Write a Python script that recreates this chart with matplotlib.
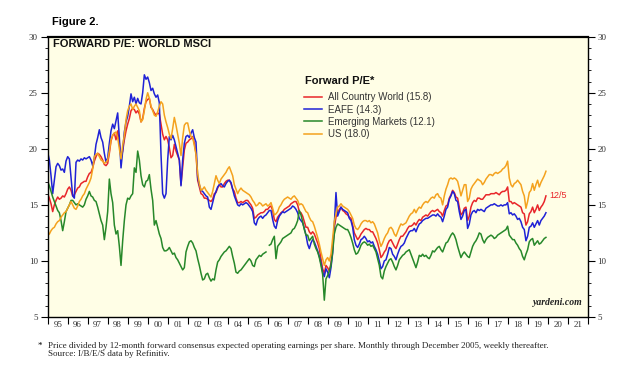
import matplotlib
matplotlib.use("Agg")
import matplotlib.pyplot as plt
import numpy as np
from matplotlib.ticker import MultipleLocator, FixedLocator

# monthly readings, Jan 1995 .. Dec 2019 (one row per year)
acwi = [
    16.0, 15.6, 15.1, 14.4, 15.0, 15.4, 15.7, 15.5, 15.6, 15.8, 15.7, 16.0,
    16.4, 16.6, 16.3, 15.8, 15.9, 16.2, 16.5, 16.6, 16.9, 17.0, 17.1, 17.1,
    17.5, 17.8, 17.9, 18.3, 18.9, 19.3, 19.6, 19.5, 19.3, 19.0, 18.6, 18.5,
    18.7, 19.6, 20.7, 21.2, 21.4, 20.8, 21.6, 20.5, 19.2, 19.8, 20.8, 21.6,
    22.2, 22.7, 23.4, 23.6, 23.5, 23.2, 23.4, 23.1, 22.4, 22.7, 23.6, 24.2,
    24.4, 24.5, 23.7, 23.5, 23.2, 23.0, 23.2, 23.1, 22.2, 21.3, 20.8, 21.1,
    20.8, 20.1, 19.2, 19.4, 20.4, 19.8, 19.4, 19.0, 16.8, 18.3, 19.9, 20.5,
    20.6, 20.8, 20.9, 21.1, 20.5, 19.6, 17.2, 16.6, 16.0, 15.9, 15.6, 15.6,
    15.5, 15.4, 15.3, 15.5, 16.0, 16.1, 16.5, 16.8, 16.6, 16.6, 16.9, 17.1,
    17.2, 17.2, 16.9, 16.4, 16.2, 15.6, 15.2, 15.2, 15.3, 15.2, 15.3, 15.4,
    15.4, 15.2, 15.0, 14.7, 13.8, 13.9, 14.1, 14.2, 14.3, 14.3, 14.4, 14.6,
    14.6, 14.8, 14.9, 14.5, 13.7, 13.5, 13.9, 14.1, 14.3, 14.4, 14.6, 14.7,
    14.8, 14.9, 15.1, 15.2, 15.3, 15.3, 15.0, 14.4, 14.3, 14.0, 13.5, 13.0,
    13.0, 12.6, 12.4, 12.6, 12.4, 12.0, 11.6, 11.1, 10.2, 9.3, 8.9, 9.6,
    9.4, 9.1, 9.8, 11.2, 13.0, 13.9, 14.3, 14.6, 14.8, 14.5, 14.4, 14.2,
    14.1, 13.9, 13.8, 13.2, 12.5, 12.2, 11.9, 12.1, 12.4, 12.6, 12.8, 12.9,
    12.8, 12.8, 12.6, 12.6, 12.3, 12.0, 11.6, 11.0, 10.3, 10.5, 10.8, 11.0,
    11.5, 11.8, 11.9, 11.6, 11.3, 11.1, 11.5, 11.9, 12.2, 12.2, 12.4, 12.6,
    12.9, 13.1, 13.1, 13.2, 13.4, 13.2, 13.5, 13.7, 13.6, 13.9, 14.0, 14.1,
    14.0, 14.2, 14.4, 14.5, 14.4, 14.5, 14.6, 14.4, 14.3, 14.0, 14.5, 14.9,
    15.0, 15.6, 15.9, 16.3, 16.1, 15.7, 15.6, 14.8, 14.1, 14.3, 14.7, 14.8,
    13.6, 14.0, 14.8, 15.2, 15.4, 15.3, 15.6, 15.6, 15.5, 15.5, 15.7, 15.9,
    15.9, 15.9, 16.0, 16.0, 16.0, 16.1, 16.0, 15.9, 16.1, 16.2, 16.2, 16.3,
    16.6, 15.3, 15.3, 15.1, 15.2, 15.1, 15.0, 14.9, 14.8, 14.3, 14.2, 13.2,
    13.5, 14.2, 14.4, 14.8, 14.3, 14.6, 15.0, 14.5, 14.8, 15.0, 15.3, 15.8,
]

eafe = [
    19.7, 19.0, 17.6, 16.0, 17.2, 18.4, 18.7, 18.5, 18.1, 18.2, 17.9, 18.9,
    19.3, 19.1, 17.5, 15.8, 15.6, 18.8, 19.0, 18.9, 19.1, 19.0, 19.2, 19.1,
    19.2, 19.3, 19.0, 18.5, 19.2, 20.4, 21.0, 21.7, 21.0, 20.6, 19.6, 18.8,
    19.2, 20.5, 21.6, 22.2, 21.8, 22.5, 23.2, 21.0, 18.3, 19.8, 21.5, 22.4,
    22.9, 23.8, 24.9, 24.2, 24.6, 24.0, 24.5, 24.1, 24.0, 25.0, 26.6, 26.2,
    26.4, 25.9, 25.2, 25.4, 24.9, 24.6, 24.8, 24.1, 19.5, 16.0, 15.6, 16.0,
    19.0, 21.1, 20.8, 21.2, 20.8, 20.2, 19.6, 19.0, 16.7, 19.0, 20.5, 21.1,
    21.2, 21.0, 21.4, 21.7, 21.0, 20.6, 17.4, 16.8, 16.3, 16.2, 16.0, 15.8,
    15.7, 14.8, 14.6, 15.2, 15.8, 16.2, 16.6, 16.8, 16.9, 16.7, 16.6, 16.9,
    17.1, 17.2, 17.0, 16.4, 15.8, 15.4, 15.0, 14.9, 15.1, 15.0, 15.1, 15.2,
    15.1, 14.9, 14.7, 14.4, 13.4, 13.2, 13.7, 13.9, 14.0, 13.8, 14.0, 14.1,
    14.3, 14.5, 14.5, 13.7, 13.1, 12.9, 13.6, 14.0, 14.2, 14.4, 14.3, 14.4,
    14.5, 14.6, 14.7, 14.9, 14.8, 14.6, 14.3, 13.8, 13.6, 13.4, 12.9, 12.3,
    11.5, 11.1, 11.6, 11.9, 11.7, 11.3, 10.9, 10.4, 9.8, 9.0, 8.6, 9.3,
    9.0, 8.5, 9.4, 10.7, 13.2, 16.1, 14.0, 14.4, 14.8, 14.6, 14.5, 14.4,
    14.3, 13.8, 13.6, 13.0, 11.9, 11.4, 11.2, 11.5, 11.9, 12.0, 12.2, 12.0,
    11.7, 11.8, 11.6, 11.7, 11.3, 11.0, 10.6, 10.0, 9.3, 9.5, 10.0, 10.1,
    10.6, 11.2, 11.1, 10.6, 10.4, 10.1, 10.6, 11.0, 11.3, 11.4, 11.6, 12.0,
    12.3, 12.6, 12.7, 12.7, 12.9, 12.6, 13.0, 13.3, 13.4, 13.6, 13.7, 13.8,
    13.8, 13.9, 14.0, 14.1, 14.1, 14.0, 14.2, 14.0, 13.9, 13.5, 14.0, 14.6,
    14.8, 15.5, 15.8, 16.2, 16.0, 15.4, 15.3, 14.4, 13.7, 14.0, 14.5, 14.6,
    12.9, 13.3, 14.1, 14.4, 14.5, 14.3, 14.6, 14.5, 14.6, 14.5, 14.4, 14.7,
    14.8, 14.9, 15.0, 15.0, 15.1, 15.0, 14.9, 14.9, 15.0, 14.9, 15.0, 15.0,
    15.2, 14.2, 14.3, 14.1, 14.2, 14.0, 13.7, 13.8, 13.5, 13.0, 12.8, 11.8,
    12.2, 13.0, 13.1, 13.4, 13.0, 13.3, 13.6, 13.2, 13.6, 13.8, 14.0, 14.3,
]

em = [
    17.1, 16.7, 16.2, 15.7, 15.3, 14.9, 14.5, 14.3, 13.6, 12.7, 13.5, 14.4,
    14.7, 15.0, 15.4, 15.4, 15.2, 15.0, 15.1, 15.0, 14.9, 14.8, 15.0, 15.5,
    15.8, 16.2, 15.8, 15.7, 15.4, 15.3, 14.8, 14.2, 13.6, 13.2, 11.9, 13.0,
    14.4, 17.3, 16.0, 15.2, 13.2, 12.4, 12.7, 11.3, 9.6, 11.8, 13.6, 15.0,
    15.6, 15.5, 15.8, 16.0, 18.3, 17.9, 19.8, 19.0, 17.6, 16.8, 16.6, 17.1,
    17.2, 17.7, 16.4, 15.4, 13.2, 13.6, 13.0, 12.4, 12.0, 11.2, 10.9, 10.9,
    11.0, 11.2, 10.9, 10.6, 10.7, 10.3, 10.1, 9.8, 9.5, 9.2, 9.4, 10.8,
    11.3, 11.7, 11.8, 11.6, 11.2, 10.9, 10.2, 9.6, 8.9, 8.3, 8.4, 8.8,
    8.9, 8.5, 8.2, 8.4, 8.3, 9.2, 9.9, 10.1, 10.4, 10.6, 10.8, 10.9,
    11.1, 11.3, 11.1, 10.4, 9.8, 9.0, 8.9, 9.1, 9.2, 9.4, 9.6, 9.8,
    10.0, 10.2, 10.0, 9.6, 9.5, 10.1, 10.3, 10.5, 10.4, 10.6, 10.7, 10.8,
    np.nan, 11.4, 11.5, 11.9, 12.2, 10.2, 11.3, 11.5, 11.7, 12.0, 12.1, 12.2,
    12.3, 12.4, 12.5, 12.8, 12.9, 13.2, 13.6, 14.5, 14.1, 13.5, 12.8, 12.3,
    12.3, 11.8, 12.0, 12.2, 11.5, 11.1, 10.8, 10.3, 9.6, 8.8, 6.5, 8.4,
    8.7, 9.1, 9.6, 10.8, 12.4, 13.0, 13.3, 13.2, 13.1, 13.0, 12.9, 12.8,
    12.8, 12.5, 12.1, 11.6, 11.0, 10.6, 10.7, 11.0, 11.4, 11.6, 11.7, 11.6,
    11.4, 11.5, 11.3, 11.4, 11.1, 10.8, 10.2, 9.6, 8.6, 8.4, 9.1, 9.5,
    9.8, 10.1, 10.2, 9.9, 9.5, 9.2, 9.6, 10.1, 10.3, 10.5, 10.6, 10.8,
    10.9, 11.0, 10.6, 10.2, 9.8, 9.4, 9.9, 10.5, 10.4, 10.6, 10.4, 10.5,
    10.3, 10.2, 10.5, 10.9, 10.8, 11.0, 11.2, 11.3, 11.0, 10.8, 11.2, 11.6,
    11.7, 12.0, 12.3, 12.5, 12.3, 11.9, 11.3, 10.8, 10.3, 10.6, 10.8, 10.6,
    10.4, 10.3, 10.8, 11.3, 11.6, 11.8, 12.1, 12.5, 12.4, 11.9, 11.6, 11.9,
    12.1, 12.2, 12.3, 12.2, 12.0, 12.1, 12.3, 12.4, 12.5, 12.6, 12.7, 12.8,
    13.1, 12.3, 12.1, 11.9, 11.9, 11.6, 11.4, 11.1, 10.9, 10.4, 10.1, 10.6,
    11.0, 11.7, 11.9, 12.0, 11.4, 11.6, 11.8, 11.5, 11.6, 11.8, 12.0, 12.1,
]

us = [
    12.3, 12.4, 12.7, 12.9, 13.0, 13.3, 13.5, 13.6, 13.9, 14.1, 14.3, 14.4,
    14.7, 15.0, 15.3, 15.0, 14.7, 14.6, 14.9, 15.3, 15.5, 15.8, 16.0, 16.4,
    16.7, 17.0, 17.4, 18.2, 19.3, 19.5, 19.6, 19.3, 19.0, 18.9, 18.7, 18.8,
    19.0, 19.8, 20.8, 21.2, 21.4, 21.5, 21.0, 20.0, 19.1, 20.3, 21.2, 22.6,
    23.4, 23.8, 24.0, 23.5, 23.8, 24.0, 23.7, 23.4, 22.4, 22.6, 23.4, 24.4,
    25.0, 24.5, 23.8, 23.4, 23.0, 22.9, 23.3, 23.8, 24.2, 24.0, 23.0, 22.4,
    21.9, 21.3, 20.9, 21.8, 22.8, 22.1, 21.3, 20.5, 19.4, 21.0, 22.1, 22.3,
    22.3, 21.6, 21.1, 21.0, 20.3, 19.5, 17.8, 16.9, 16.3, 16.4, 16.6, 16.3,
    16.1, 15.9, 15.7, 16.2, 16.9, 17.6, 17.2, 16.9, 17.3, 17.5, 17.7, 17.9,
    18.2, 18.4, 18.0, 17.6, 16.8, 16.4, 16.0, 16.3, 16.5, 16.3, 16.2, 16.1,
    16.0, 15.9, 15.7, 15.4, 15.2, 14.9, 15.0, 15.2, 15.1, 14.9, 15.0, 15.1,
    14.9, 15.0, 15.2, 14.7, 14.1, 14.2, 14.4, 14.8, 15.0, 15.3, 15.5, 15.6,
    15.7, 15.6, 15.5, 15.7, 15.8, 15.6, 15.4, 15.0, 15.1, 15.0, 14.7, 14.4,
    14.3, 13.9, 13.6, 13.5, 13.1, 12.6, 12.1, 11.5, 10.8, 10.2, 9.6, 10.1,
    10.3, 10.0, 10.6, 12.0, 13.5, 14.2, 14.8, 14.9, 15.1, 14.9, 14.8, 14.7,
    14.6, 14.4, 14.1, 13.8, 13.2, 12.9, 12.8, 13.0, 13.3, 13.5, 13.6, 13.6,
    13.5, 13.6, 13.4, 13.5, 13.3, 12.9, 12.5, 11.8, 11.3, 11.6, 12.0, 12.3,
    12.5, 12.9, 13.0, 12.8, 12.4, 12.2, 12.6, 13.0, 13.3, 13.2, 13.3, 13.4,
    13.7, 14.0, 14.2, 14.3, 14.6, 14.3, 14.6, 14.8, 14.7, 15.0, 15.2, 15.3,
    15.2, 15.4, 15.6, 15.7, 15.6, 15.9, 16.0, 15.7, 15.6, 15.0, 15.8, 16.4,
    16.8, 17.3, 17.4, 17.3, 17.4, 17.3, 17.1, 16.5, 15.8, 16.3, 16.8, 16.8,
    15.3, 15.6, 16.4, 16.7, 16.9, 17.1, 17.3, 17.2, 17.1, 16.8, 17.0, 17.3,
    17.5, 17.7, 17.7, 17.6, 17.8, 17.9, 17.8, 17.9, 18.0, 18.2, 18.3, 18.5,
    18.9, 17.4, 16.8, 16.6, 16.9, 17.0, 17.2, 17.0, 16.8, 16.2, 15.8, 14.7,
    15.3, 16.1, 16.3, 16.9, 16.3, 16.8, 17.2, 16.6, 17.0, 17.3, 17.6, 18.0,
]

labels = ["All Country World (15.8)", "EAFE (14.3)", "Emerging Markets (12.1)", "US (18.0)"]
colors = ["#e8262a", "#1f22d6", "#27882a", "#f4a21e"]
year_labels = ["95", "96", "97", "98", "99", "00", "01", "02", "03", "04", "05", "06", "07",
               "08", "09", "10", "11", "12", "13", "14", "15", "16", "17", "18", "19", "20", "21"]

serif = "Liberation Serif"
sans = "Liberation Sans"

fig = plt.figure(figsize=(6.3, 3.79), dpi=100)
ax = fig.add_axes([0.0757, 0.1636, 0.857, 0.7396])
ax.set_facecolor("#fffee6")

t = 1995 + np.arange(len(acwi)) / 12.0
for series, lab, col in zip([acwi, eafe, em, us], labels, colors):
    ax.plot(t, series, color=col, lw=1.1, label=lab)

ax.set_xlim(1995, 2022)
ax.set_ylim(5, 30)

# years: boundary ticks unlabeled, labels centred in each year
ax.xaxis.set_major_locator(FixedLocator(np.arange(1995, 2023)))
ax.xaxis.set_minor_locator(FixedLocator(np.arange(1995, 2022) + 0.5))
ax.xaxis.set_major_formatter(plt.NullFormatter())
ax.set_xticklabels(year_labels, minor=True)
ax.tick_params(axis="x", which="major", direction="out", length=5, width=0.8)
ax.tick_params(axis="x", which="minor", length=0, pad=3, labelsize=6.5)

ax.yaxis.set_major_locator(MultipleLocator(5))
ax.yaxis.set_minor_locator(MultipleLocator(1))
ax.tick_params(axis="y", which="both", direction="out", left=True, right=True,
               labelleft=True, labelright=True, labelsize=6.5, pad=2)
ax.tick_params(axis="y", which="major", length=5, width=0.8)
ax.tick_params(axis="y", which="minor", length=2.5, width=0.6)
for lab in ax.get_xticklabels(minor=True) + ax.get_yticklabels():
    lab.set_fontfamily(serif)
    lab.set_color("#333333")
for sp in ax.spines.values():
    sp.set_linewidth(1.0)
ax.spines["top"].set_linewidth(1.6)

ax.text(0.01, 0.99, "FORWARD P/E: WORLD MSCI", transform=ax.transAxes, ha="left", va="top",
        fontsize=8, fontweight="bold", family=sans, color="#111111")
ax.text(2020.1, 15.8, "12/5", color=colors[0], fontsize=6.5, family=sans, va="center", ha="left")
ax.text(0.991, 0.035, "yardeni.com", transform=ax.transAxes, ha="right", va="bottom",
        fontsize=7, fontweight="bold", style="italic", family=serif, color="#222222")

fig.text(305 / 630, 1 - 81 / 379, "Forward P/E*", fontsize=8, fontweight="bold", family=sans,
         ha="left", va="center", color="#111111")
leg = ax.legend(loc="upper left", bbox_to_anchor=(304 / 630, 1 - 92.5 / 379), bbox_transform=fig.transFigure,
                frameon=False, handlelength=1.9, handletextpad=0.6,
                labelspacing=0.22, borderpad=0, borderaxespad=0,
                prop={"family": sans, "size": 7})
for txt in leg.get_texts():
    txt.set_color("#333333")

fig.text(0.083, 0.942, "Figure 2.", fontsize=8, fontweight="bold", family=sans, ha="left", va="center")
fig.text(0.06, 0.088, "*", fontsize=6.5, family=serif, ha="left", va="center")
fig.text(0.076, 0.088, "Price divided by 12-month forward consensus expected operating earnings per share. "
         "Monthly through December 2005, weekly thereafter.", fontsize=6.5, family=serif,
         ha="left", va="center", color="#222222")
fig.text(0.076, 0.066, "Source: I/B/E/S data by Refinitiv.", fontsize=6.5, family=serif,
         ha="left", va="center", color="#222222")

fig.savefig("out.png", dpi=100, facecolor="white")
